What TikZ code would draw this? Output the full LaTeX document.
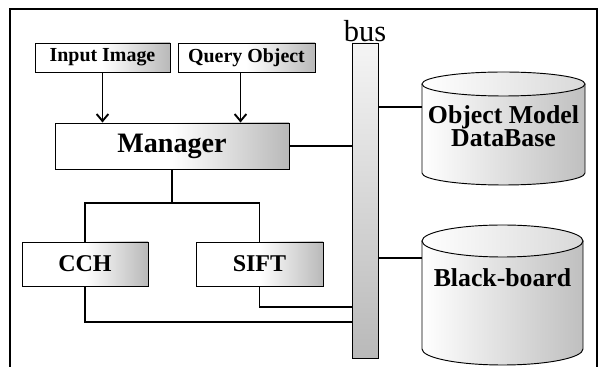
\documentclass[tikz,border=0pt]{standalone}
\usepackage{fontspec}
\setmainfont{Liberation Serif}
\usetikzlibrary{arrows.meta}

\tikzset{
  box/.style={draw, line width=0.8pt, inner sep=0pt,
    left color=white, right color=gray!55, middle color=white},
  link/.style={line width=1.6pt},
  feed/.style={line width=1.6pt, -{Straight Barb[length=6pt,width=10pt]}},
  drum/.style={draw, line width=0.8pt, left color=white, right color=gray!50},
  drumtop/.style={draw, line width=0.8pt, left color=white, right color=gray!30},
}

\begin{document}
\begin{tikzpicture}[x=0.03cm, y=0.03cm]
  \useasboundingbox (0,0) rectangle (603,367);
  % frame
  \draw[line width=2.4pt] (10,0) -- (10,358) -- (597,358) -- (597,0);

  % inputs
  \node[box, minimum width=4.05cm, minimum height=0.87cm, font=\bfseries\fontsize{17}{20}\selectfont] (inp) at (102.5,309.5) {Input Image};
  \node[box, minimum width=4.11cm, minimum height=0.87cm, font=\bfseries\fontsize{17}{20}\selectfont] (qry) at (246.5,309.5) {Query Object};
  \node[box, minimum width=7.02cm, minimum height=1.38cm, font=\bfseries\fontsize{24}{28}\selectfont] (mgr) at (172,221) {Manager};
  \node[box, minimum width=3.78cm, minimum height=1.32cm, font=\bfseries\fontsize{20.5}{24}\selectfont] (cch) at (85,103) {CCH};
  \node[box, minimum width=3.81cm, minimum height=1.32cm, font=\bfseries\fontsize{20.5}{24}\selectfont] (sift) at (259.5,103) {SIFT};

  % bus
  \node[draw, line width=0.8pt, top color=gray!8, bottom color=gray!55, minimum width=0.78cm, minimum height=9.45cm, inner sep=0pt] (bus) at (365,166.5) {};
  \node[above, inner sep=0pt, font=\fontsize{26}{26}\selectfont] (buslabel) at (bus.north) {bus};

  % object model database
  \path[drum] (422,283) -- (422,194) arc[start angle=180, end angle=360, x radius=2.445cm, y radius=0.36cm] -- (585,283);
  \path[drumtop] (503.5,283) ellipse [x radius=2.445cm, y radius=0.36cm];
  \node[align=center, inner sep=0pt, minimum width=4.89cm, font=\bfseries\fontsize{22}{19}\selectfont] (db) at (503.5,241) {Object Model\\DataBase};

  % blackboard
  \path[drum] (422,126) -- (422,18) arc[start angle=180, end angle=360, x radius=2.415cm, y radius=0.48cm] -- (583,126);
  \path[drumtop] (502.5,126) ellipse [x radius=2.415cm, y radius=0.48cm];
  \node[inner sep=0pt, minimum width=4.83cm, font=\bfseries\fontsize{22}{24}\selectfont] (bb) at (502.5,89) {Black-board};

  \coordinate (split) at (172,164);
  \coordinate (cchrow) at (0,45);
  \coordinate (siftrow) at (0,60);
  \coordinate (dbin) at (422,260);
  \coordinate (bbin) at (422,109);

  % connections
  \draw[feed] (inp.south) -- (inp.south |- mgr.north);
  \draw[feed] ([xshift=-0.18cm]qry.south) -- ([xshift=-0.18cm]qry.south |- mgr.north);
  \draw[link] (mgr.east) -- (mgr.east -| bus.west);
  \draw[link] (mgr.south) -- (split);
  \draw[link] (cch.north) |- (split) -| (sift.north);
  \draw[link] (cch.south) |- (bus.west |- cchrow);
  \draw[link] (sift.south) |- (bus.west |- siftrow);
  \draw[link] (bus.east |- dbin) -- (dbin);
  \draw[link] (bus.east |- bbin) -- (bbin);
\end{tikzpicture}
\end{document}
